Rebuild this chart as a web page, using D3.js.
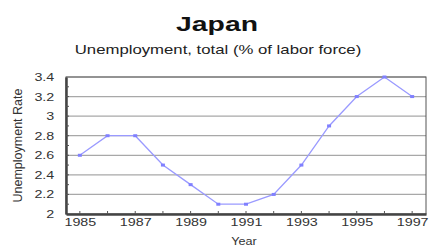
<!DOCTYPE html>
<html>
<head>
<meta charset="utf-8">
<script src="https://cdn.jsdelivr.net/npm/d3@7"></script>
<style>
body { margin: 0; background: #fff; }
text { font-family: "Liberation Sans", Arial, sans-serif; }
</style>
</head>
<body>
<script>
var years = [1985, 1986, 1987, 1988, 1989, 1990, 1991, 1992, 1993, 1994, 1995, 1996, 1997];
var rates = [2.6, 2.8, 2.8, 2.5, 2.3, 2.1, 2.1, 2.2, 2.5, 2.9, 3.2, 3.4, 3.2];
var yTicks = [2, 2.2, 2.4, 2.6, 2.8, 3, 3.2, 3.4];
var xTicks = [1985, 1987, 1989, 1991, 1993, 1995, 1997];

var width = 429, height = 247;
var margin = {top: 77, right: 3, bottom: 33, left: 66};
var stretch = 1.3; // text in the picture is wide

var svg = d3.select("body").append("svg")
    .attr("width", width)
    .attr("height", height);

var x = d3.scaleLinear()
    .domain([1984.5, 1997.5])
    .range([margin.left, width - margin.right]);

var y = d3.scaleLinear()
    .domain([2, 3.4])
    .range([height - margin.bottom, margin.top]);

function wideText(px, py, sx, str) {
    return svg.append("text")
        .attr("transform", "translate(" + px + "," + py + ") scale(" + sx + ",1)")
        .attr("text-anchor", "middle")
        .text(str);
}

// titles
wideText(217, 31, 1.35, "Japan")
    .style("font-size", "21px").style("font-weight", "bold")
    .attr("fill", "#111");

wideText(218, 54, 1.34, "Unemployment, total (% of labor force)")
    .style("font-size", "12.5px")
    .attr("fill", "#222");

// gridlines
svg.append("g")
    .selectAll("line")
    .data(yTicks.slice(1))
    .enter().append("line")
    .attr("x1", x(1984.5)).attr("x2", x(1997.5))
    .attr("y1", function(d) { return y(d); })
    .attr("y2", function(d) { return y(d); })
    .attr("stroke", "#a8a8a8")
    .attr("stroke-width", 1.2);

// frame
svg.append("rect")
    .attr("x", x(1984.5)).attr("y", y(3.4))
    .attr("width", x(1997.5) - x(1984.5))
    .attr("height", y(2) - y(3.4))
    .attr("fill", "none")
    .attr("stroke", "#555")
    .attr("stroke-width", 1);

// y axis
var yAxis = svg.append("g")
    .attr("transform", "translate(" + margin.left + ",0)")
    .call(d3.axisLeft(y).tickValues(yTicks).tickFormat(d3.format("")).tickSize(0).tickPadding(9));
yAxis.select(".domain").attr("stroke", "#444").attr("stroke-width", 2.5);
yAxis.selectAll("text")
    .style("font-size", "11px").attr("fill", "#333")
    .attr("transform", "scale(" + stretch + ",1)");

// minor inward ticks on y axis
svg.append("g")
    .selectAll("line")
    .data(d3.range(2.1, 3.4, 0.1))
    .enter().append("line")
    .attr("x1", margin.left).attr("x2", margin.left + 3)
    .attr("y1", function(d) { return y(d); })
    .attr("y2", function(d) { return y(d); })
    .attr("stroke", "#555");

// x axis
var xAxis = svg.append("g")
    .attr("transform", "translate(0," + (height - margin.bottom) + ")")
    .call(d3.axisBottom(x).tickValues(xTicks).tickFormat(d3.format("d")).tickSize(0).tickPadding(4));
xAxis.select(".domain").attr("stroke", "#444").attr("stroke-width", 2.5);
xAxis.selectAll("text")
    .style("font-size", "11px").attr("fill", "#333")
    .attr("transform", "scale(" + stretch + ",1)");

svg.append("g")
    .selectAll("line")
    .data(years)
    .enter().append("line")
    .attr("x1", function(d) { return x(d); })
    .attr("x2", function(d) { return x(d); })
    .attr("y1", y(2)).attr("y2", y(2) - 3)
    .attr("stroke", "#555");

// axis titles
svg.append("text")
    .attr("transform", "translate(22," + ((y(2) + y(3.4)) / 2) + ") rotate(-90)")
    .attr("text-anchor", "middle")
    .style("font-size", "12.5px")
    .attr("fill", "#333")
    .text("Unemployment Rate");

wideText(244, 245, 1.15, "Year")
    .style("font-size", "11px")
    .attr("fill", "#333");

// line
var line = d3.line()
    .x(function(d, i) { return x(years[i]); })
    .y(function(d) { return y(d); });

svg.append("path")
    .datum(rates)
    .attr("d", line)
    .attr("fill", "none")
    .attr("stroke", "#9a9aff")
    .attr("stroke-width", 1.3);

svg.append("g")
    .selectAll("rect")
    .data(rates)
    .enter().append("rect")
    .attr("x", function(d, i) { return x(years[i]) - 2; })
    .attr("y", function(d) { return y(d) - 1.5; })
    .attr("width", 4).attr("height", 3)
    .attr("fill", "#8080ff");
</script>
</body>
</html>
